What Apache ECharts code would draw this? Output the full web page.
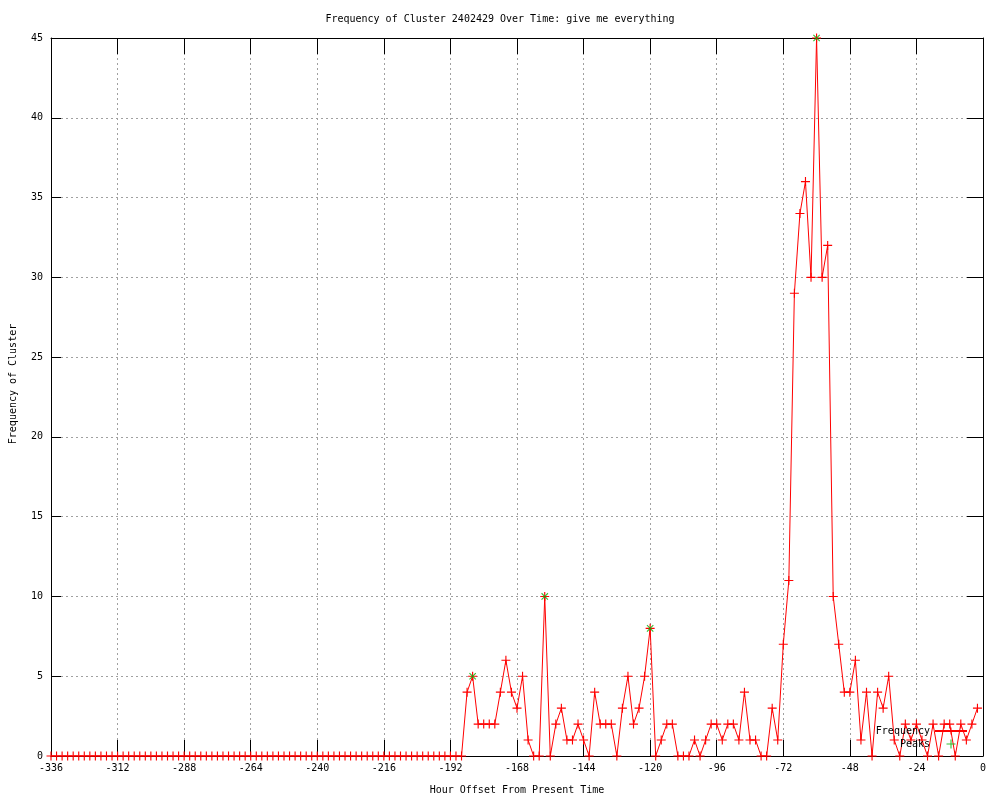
<!DOCTYPE html>
<html>
<head>
<meta charset="utf-8">
<script src="https://cdn.jsdelivr.net/npm/echarts@6/dist/echarts.min.js"></script>
<style>html,body{margin:0;padding:0;background:#fff;}#c{width:1000px;height:800px;}</style>
</head>
<body>
<div id="c"></div>
<script>
// Hour offsets (every 2 hours) from -336 to -2
const hours = [];
for (let h = -336; h <= -2; h += 2) hours.push(h);

// Frequency values, one per hour offset above
const frequency = [
  0,0,0,0,0,0,0,0,0,0, 0,0,0,0,0,0,0,0,0,0,
  0,0,0,0,0,0,0,0,0,0, 0,0,0,0,0,0,0,0,0,0,
  0,0,0,0,0,0,0,0,0,0, 0,0,0,0,0,0,0,0,0,0,
  0,0,0,0,0,0,0,0,0,0, 0,0,0,0,0,
  // -186 ..
  4,5,2,2,2,2,4,6,4,3,5,1,0,0,10,0,2,3,1,1,2,1,0,4,2,2,2,0,3,5,2,3,5,8,
  // -118 ..
  0,1,2,2,0,0,0,1,0,1,2,2,1,2,2,1,4,1,1,0,0,3,1,7,11,29,34,36,30,45,30,32,10,7,
  // -50 ..
  4,4,6,1,4,0,4,3,5,1,0,2,1,2,1,0,2,0,2,2,0,2,1,2,3
];

const peakHours = [-184, -158, -120, -60];
const peakValues = [5, 10, 8, 45];

const xTicks = { min: -336, max: 0, interval: 24 };
const yTicks = { min: 0, max: 45, interval: 5 };

const freqData = hours.map((h, i) => [h, frequency[i]]);
const peakData = peakHours.map((h, i) => [h, peakValues[i]]);

const PLUS = 'path://M3.5,0h1v3.5h3.5v1h-3.5v3.5h-1v-3.5h-3.5v-1h3.5z';
const FONT = 'DejaVu Sans Mono';

const chart = echarts.init(document.getElementById('c'), null, { renderer: 'canvas' });
const gridLine = { show: true, lineStyle: { color: '#a0a0a0', type: [2, 3], width: 1 } };

chart.setOption({
  animation: false,
  backgroundColor: '#ffffff',
  textStyle: { fontFamily: FONT, color: '#000' },
  title: {
    text: 'Frequency of Cluster 2402429 Over Time: give me everything',
    left: 'center', top: 9,
    textStyle: { fontFamily: FONT, fontSize: 10, fontWeight: 'normal', color: '#000' }
  },
  legend: {
    orient: 'vertical',
    right: 27, top: 721,
    align: 'right',
    itemWidth: 32, itemHeight: 9,
    itemGap: 3,
    textStyle: { fontFamily: FONT, fontSize: 10, color: '#000' },
    data: ['Frequency', 'Peaks']
  },
  grid: { left: 49, right: 17, top: 38, bottom: 40, containLabel: false },
  xAxis: [{
    type: 'value', min: xTicks.min, max: xTicks.max, interval: xTicks.interval,
    name: 'Hour Offset From Present Time', nameLocation: 'middle', nameGap: 29,
    nameTextStyle: { fontFamily: FONT, fontSize: 10, color: '#000' },
    axisLine: { show: true, onZero: false, lineStyle: { color: '#000', width: 1 } },
    axisTick: { show: true, inside: true, length: 16, lineStyle: { color: '#000' } },
    axisLabel: { fontFamily: FONT, fontSize: 10, color: '#000', margin: 7 },
    splitLine: gridLine
  }, {
    type: 'value', position: 'top', min: xTicks.min, max: xTicks.max, interval: xTicks.interval,
    axisLine: { show: true, onZero: false, lineStyle: { color: '#000', width: 1 } },
    axisTick: { show: true, inside: true, length: 16, lineStyle: { color: '#000' } },
    axisLabel: { show: false }, splitLine: { show: false }
  }],
  yAxis: [{
    type: 'value', min: yTicks.min, max: yTicks.max, interval: yTicks.interval,
    name: 'Frequency of Cluster', nameLocation: 'middle', nameGap: 33,
    nameTextStyle: { fontFamily: FONT, fontSize: 10, color: '#000', padding: [0, 0, 0, 26] },
    axisLine: { show: true, onZero: false, lineStyle: { color: '#000', width: 1 } },
    axisTick: { show: true, inside: true, length: 10, lineStyle: { color: '#000' } },
    axisLabel: { fontFamily: FONT, fontSize: 10, color: '#000', margin: 8 },
    splitLine: gridLine
  }, {
    type: 'value', position: 'right', min: yTicks.min, max: yTicks.max, interval: yTicks.interval,
    axisLine: { show: true, onZero: false, lineStyle: { color: '#000', width: 1 } },
    axisTick: { show: true, inside: true, length: 16, lineStyle: { color: '#000' } },
    axisLabel: { show: false }, splitLine: { show: false }
  }],
  series: [{
    name: 'Frequency', type: 'line', data: freqData,
    xAxisIndex: 0, yAxisIndex: 0,
    symbol: PLUS, symbolSize: 9, showSymbol: true,
    lineStyle: { color: '#ff0000', width: 1 },
    itemStyle: { color: '#ff0000' },
    z: 2
  }, {
    name: 'Peaks', type: 'scatter', data: peakData,
    xAxisIndex: 0, yAxisIndex: 0,
    symbol: PLUS, symbolSize: 9, symbolRotate: 45,
    itemStyle: { color: '#00b000' },
    z: 3
  }]
});
</script>
</body>
</html>
